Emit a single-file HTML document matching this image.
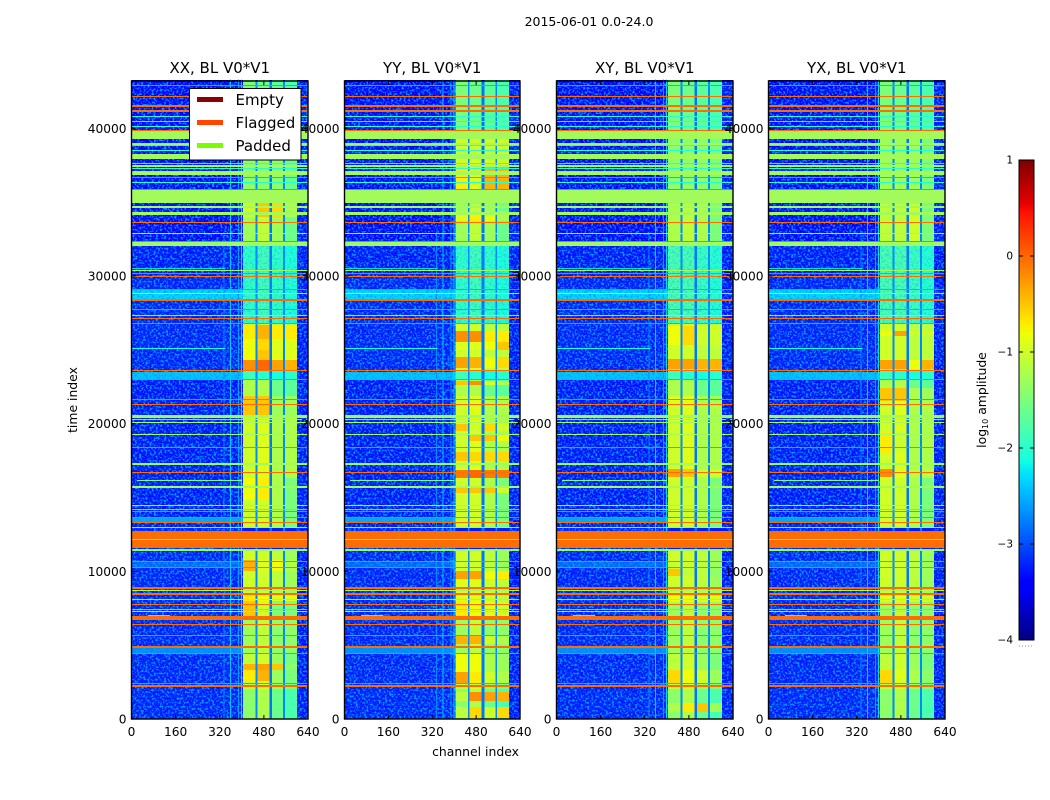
<!DOCTYPE html>
<html>
<head>
<meta charset="utf-8">
<title>2015-06-01 0.0-24.0</title>
<style>
html,body{margin:0;padding:0;background:#fff;width:1050px;height:800px;overflow:hidden}
svg{display:block}
text{font-family:"DejaVu Sans","Liberation Sans",sans-serif;fill:#000}
</style>
</head>
<body>
<svg id="figure" xmlns="http://www.w3.org/2000/svg" width="1050" height="800" viewBox="0 0 1050 800">
<defs>
<filter id="speckle" x="0" y="0" width="100%" height="100%" color-interpolation-filters="sRGB">
<feTurbulence type="fractalNoise" baseFrequency="0.48" numOctaves="2" seed="7"/>
<feColorMatrix type="matrix" values="0 0 0 0 0  0 0 0 0 0.62  0 0 0 0 1  5 0 0 0 -2.4"/>
</filter>
</defs>
<text x="589" y="26" text-anchor="middle" font-size="12.5">2015-06-01 0.0-24.0</text>
<text x="475.5" y="756" text-anchor="middle" font-size="12.4">channel index</text>
<text x="77" y="400" text-anchor="middle" font-size="12.4" transform="rotate(-90 77 400)">time index</text>
<g id="panels"></g>
<g id="colorbar"></g>
<text x="986" y="400" text-anchor="middle" font-size="12.4" transform="rotate(-90 986 400)">log<tspan font-size="8" dy="2">10</tspan><tspan dy="-2"> amplitude</tspan></text>
<g id="legend"></g>
</svg>
<script>
/* ---------- data (channels, time indices, log10 amplitudes) ---------- */
const panelTitles = ['XX, BL V0*V1', 'YY, BL V0*V1', 'XY, BL V0*V1', 'YX, BL V0*V1'];
const channelTicks = [0, 160, 320, 480, 640];
const timeTicks = [0, 10000, 20000, 30000, 40000];
const colorTicks = [1, 0, -1, -2, -3, -4];
const legendLabels = ['Empty', 'Flagged', 'Padded'];
const legendColors = ['#8b0000', '#ff4500', '#7cfc00'];

/* channel ranges of the four bright bands, and the gaps around them */
const blockChannels = [[405, 450], [456, 500], [510, 550], [557, 600]];
const gapChannels = [[450, 456, -2.7], [500, 510, -2.8], [550, 557, -2.7], [600, 640, -3.3]];

/* time ranges: whole-row flagged samples */
const flaggedRows = [[2200,2315],[2370,2420],[4380,4450],[4793,4928],[5600,5670],[6360,6430],[6736,7007],[7720,7790],[8429,8564],[8815,8950],[10240,10310],[10650,10720],[11563,12100],[12160,12761],[13250,13320],[13590,13660],[14030,14100],[16630,16700],[18320,18400],[21240,21310],[21570,21640],[22937,23052],[23545,23627],[26729,26810],[27080,27150],[27690,27760],[28285,28468],[29020,29090],[29940,30010],[30150,30220],[32290,32360],[33580,33650],[35810,35880],[36650,36710],[39800,39880],[41130,41250],[41440,41570],[42100,42170],[42860,42920]];

/* time ranges: whole-row padded samples */
const paddedRows = [[7240,7310],[8040,8100],[8670,8730],[11407,11542],[12100,12160],[12950,13020],[14420,14490],[15652,15760],[17229,17365],[19200,19280],[20020,20090],[20220,20290],[20412,20567],[27260,27330],[28790,28860],[30330,30400],[32053,32276],[32870,32940],[34153,34357],[34628,34763],[34966,35917],[36810,36870],[36931,37134],[37405,37540],[37900,38250],[38900,39035],[39265,39880]];

/* time ranges: faint rows in the low channels, with level */
const lightRows = [[4450,4780,-2.7],[10310,10640,-2.9],[13320,13590,-2.55],[23050,23480,-2.4],[28470,29020,-2.3]];

/* time ranges: thin cyan rows that reach across every channel, with level */
const thinRows = [[7400,7450,-2.0],[14140,14190,-2.0],[36290,36340,-2.0],[37270,37320,-2.0],[37620,37680,-2.0],[38490,38540,-2.0],[38800,38850,-2.0],[40070,40120,-2.0],[40450,40500,-2.0],[40790,40840,-2.0]];

/* background level per time range */
const backgroundRows = [[0,13000,-3.25],[13000,23000,-3.3],[23000,30000,-3.25],[30000,32000,-3.3],[32000,39300,-3.45],[39300,43300,-3.45]];

/* thin interference lines: channel, start time, end time, level */
const lineChannels = [[333,0,33000,-2.7],[358,0,43300,-2.4],[387,0,43300,-2.6],[397,0,43300,-2.3]];

/* sparse narrow-band rows: time, channel start, channel end, level */
const sparseRows = [[25080,0,340,-2.1],[16150,20,400,-1.5],[7000,60,140,-1.9],[30500,0,340,-2.3]];

/* amplitude of the four bright bands, common to all products */
const commonBandRows = [
  [0,2000,-1.4,-1.2,-1.6,-1.8],
  [2000,4500,-1.1,-1.0,-1.3,-1.5],
  [4500,8000,-1.3,-1.1,-1.4,-1.4],
  [8000,11400,-1.0,-1.0,-1.1,-1.3],
  [13000,16300,-1.0,-1.0,-1.2,-1.5],
  [16300,21900,-1.0,-0.9,-1.2,-1.2],
  [21900,23000,-1.2,-1.2,-1.6,-1.7],
  [23000,23600,-1.9,-2.0,-2.1,-2.0],
  [23600,26800,-1.0,-1.0,-1.1,-1.1],
  [26800,32400,-1.95,-1.85,-1.95,-2.05],
  [32400,34900,-1.3,-1.1,-1.3,-1.6],
  [34900,39800,-1.4,-1.4,-1.4,-1.6],
  [39800,43300,-1.5,-1.6,-1.7,-1.8]
];

/* product-specific bright episodes */
const hotRowsXX = [
  [2600,3300,-0.7,-0.4,-1.3,-1.5],[3300,3700,-0.4,-0.3,-0.5,-1.4],
  [7000,8000,-0.5,-1.0,-1.5,-1.5],[8000,8500,-0.7,-0.8,-0.9,-0.9],
  [10000,10800,-0.4,-0.9,-0.8,-1.2],[14800,16300,-0.8,-0.7,-1.2,-1.5],
  [20600,21900,-0.5,-0.5,-1.3,-1.3],[23630,24300,-0.2,0,-0.3,-0.4],
  [24300,25000,-0.8,-0.5,-0.9,-0.9],[25000,25700,-0.8,-0.6,-0.9,-0.9],
  [25700,26700,-0.7,-0.4,-0.7,-0.7],[34000,35000,-1.0,-0.5,-0.6,-1.2]
];
const hotRowsYY = [
  [100,780,-1.1,-0.6,-1.0,-0.6],[1250,1800,-1.1,-0.2,-0.3,-0.4],
  [2400,3150,-0.3,-0.7,-1.0,-1.2],[3150,4400,-0.8,-0.8,-1.2,-1.3],
  [5100,5650,-0.4,-0.4,-1.0,-1.2],[7000,8000,-0.7,-0.8,-0.9,-1.0],
  [8000,9400,-0.9,-0.9,-1.0,-1.1],[9500,10050,-0.3,-0.3,-0.8,-0.7],
  [15300,15700,-0.5,-0.5,-0.5,-1.0],[16300,16850,-0.1,0,-0.1,-0.1],
  [17500,18050,-0.5,-0.6,-0.6,-0.6],[18850,19200,-1.0,-0.5,-0.5,-0.8],
  [19500,20000,-0.5,-1.0,-0.6,-1.0],[22600,22900,-0.5,-0.2,-0.9,-1.2],
  [23800,24500,-0.3,-0.4,-0.8,-0.6],[25000,25500,-0.9,-0.9,-0.8,-0.5],
  [25500,26300,-0.2,-0.2,-0.7,-0.7],[33700,34400,-0.9,-0.7,-0.9,-1.2],
  [35900,37500,-0.7,-0.9,-0.4,-0.4],[37500,39300,-1.0,-1.0,-1.0,-1.0]
];
const hotRowsXY = [
  [500,1100,-1.2,-0.7,-0.5,-1.3],[2400,3300,-0.6,-0.8,-1.0,-1.3],
  [7900,8300,-0.8,-0.8,-0.9,-0.9],[9700,10150,-0.5,-1.1,-1.1,-1.4],
  [16400,16900,-0.3,-0.5,-1.0,-1.0],[21500,21800,-0.8,-0.8,-1.2,-1.3],
  [23700,24400,-0.3,-0.3,-0.4,-0.4],[25300,26600,-0.8,-0.6,-1.0,-1.0],
  [26800,32400,-1.8,-1.8,-1.9,-2.0],[32400,34900,-1.2,-1.1,-1.2,-1.5],
  [34900,39800,-1.4,-1.4,-1.4,-1.5]
];
const hotRowsYX = [
  [2400,3300,-0.6,-0.9,-1.2,-1.4],[7900,8300,-0.9,-0.9,-1.0,-1.0],
  [16400,16900,-0.2,-0.9,-1.1,-1.1],[18000,19500,-0.7,-1.0,-1.2,-1.2],
  [21500,22400,-0.5,-0.5,-1.2,-1.3],[23700,24300,-0.3,-0.3,-0.8,-0.4],
  [25900,26300,-0.8,-0.3,-1.0,-1.0],[26800,32400,-1.8,-1.8,-1.9,-2.0],
  [32400,34900,-1.1,-1.1,-1.0,-1.5],[34900,39800,-1.3,-1.3,-1.3,-1.5]
];
const hotRowsByPanel = [hotRowsXX, hotRowsYY, hotRowsXY, hotRowsYX];

/* time ranges where the bright bands look speckled */
const noisyBandRows = [[26800,32400]];

/* ---------- layout ---------- */
const SVGNS = 'http://www.w3.org/2000/svg';
const panelLefts = [131.5, 344.5, 556.5, 768.5];
const panelWidths = [176.5, 175.5, 176.5, 176.5];
let panelWidth = 176.5;
const plotTop = 81, plotBottom = 719;
const timeMax = 43200, channelMax = 640;
const cbLeft = 1019, cbRight = 1034, cbTop = 160, cbBottom = 640;
const FLAG_COLOR = '#ff6c00', PAD_COLOR = '#a2fb5a';

function channelToX(left, ch) { return left + ch / channelMax * panelWidth; }
function timeToY(t) { return plotBottom - t / timeMax * (plotBottom - plotTop); }
function levelToY(v) { return cbBottom - (v + 4) / 5 * (cbBottom - cbTop); }

/* matplotlib jet colormap over log10 amplitude -4..1 */
function jetChannel(v, pts) {
  for (let i = 1; i < pts.length; i++) {
    if (v <= pts[i][0]) {
      const f = (v - pts[i - 1][0]) / (pts[i][0] - pts[i - 1][0]);
      return pts[i - 1][1] + f * (pts[i][1] - pts[i - 1][1]);
    }
  }
  return pts[pts.length - 1][1];
}
function levelColor(level) {
  const v = Math.max(0, Math.min(1, (level + 4) / 5));
  const r = jetChannel(v, [[0, 0], [0.35, 0], [0.66, 1], [0.89, 1], [1, 0.5]]);
  const g = jetChannel(v, [[0, 0], [0.125, 0], [0.375, 1], [0.64, 1], [0.91, 0], [1, 0]]);
  const b = jetChannel(v, [[0, 0.5], [0.11, 1], [0.34, 1], [0.65, 0], [1, 0]]);
  return 'rgb(' + Math.round(r * 255) + ',' + Math.round(g * 255) + ',' + Math.round(b * 255) + ')';
}

function addRect(parent, name, x, y, w, h, fill) {
  const el = document.createElementNS(SVGNS, 'rect');
  
  
  el.setAttribute('x', x);
  el.setAttribute('y', y);
  el.setAttribute('width', w);
  el.setAttribute('height', h);
  el.setAttribute('fill', fill);
  el.setAttribute('shape-rendering', 'crispEdges');
  parent.appendChild(el);
  return el;
}
function addLine(parent, name, x1, y1, x2, y2, stroke, width) {
  const el = document.createElementNS(SVGNS, 'line');
  
  
  el.setAttribute('x1', x1);
  el.setAttribute('y1', y1);
  el.setAttribute('x2', x2);
  el.setAttribute('y2', y2);
  el.setAttribute('stroke', stroke);
  el.setAttribute('stroke-width', width);
  parent.appendChild(el);
  return el;
}
function addText(parent, name, x, y, anchor, size, content) {
  const el = document.createElementNS(SVGNS, 'text');
  
  
  el.setAttribute('x', x);
  el.setAttribute('y', y);
  el.setAttribute('text-anchor', anchor);
  el.setAttribute('font-size', size);
  el.textContent = content;
  parent.appendChild(el);
  return el;
}
function addGroup(parent, name) {
  const el = document.createElementNS(SVGNS, 'g');
  
  
  parent.appendChild(el);
  return el;
}

/* row across a channel span, snapped to whole pixels so thin rows stay saturated */
function spanRow(g, name, x0, x1, t0, t1, fill) {
  const yTop = Math.round(timeToY(t1));
  const h = Math.max(1, Math.round(timeToY(t0)) - yTop);
  return addRect(g, name, x0, yTop, x1 - x0, h, fill);
}

function drawPanel(index) {
  const left = panelLefts[index];
  panelWidth = panelWidths[index];
  const right = left + panelWidth;
  const g = addGroup(document.getElementById('panels'), 'panel-' + panelTitles[index].slice(0, 2).toLowerCase());

  backgroundRows.forEach(function (r) {
    spanRow(g, 'background-row', left, right, r[0], r[1], levelColor(r[2]));
  });

  lightRows.forEach(function (r) {
    spanRow(g, 'light-row', left, channelToX(left, 405), r[0], r[1], levelColor(r[2]));
  });

  gapChannels.forEach(function (c) {
    const x0 = channelToX(left, c[0]), x1 = channelToX(left, c[1]);
    addRect(g, 'band-gap', x0, plotTop, x1 - x0, plotBottom - plotTop, levelColor(c[2]));
  });

  const speckle = addRect(g, 'background-noise', left, plotTop, channelToX(left, 405) - left, plotBottom - plotTop, '#000');
  speckle.setAttribute('filter', 'url(#speckle)');
  const speckleRight = addRect(g, 'background-noise-right', channelToX(left, 600), plotTop, right - channelToX(left, 600), plotBottom - plotTop, '#000');
  speckleRight.setAttribute('filter', 'url(#speckle)');

  lineChannels.forEach(function (l) {
    addRect(g, 'interference-line', channelToX(left, l[0]), timeToY(l[2]), 1, timeToY(l[1]) - timeToY(l[2]), levelColor(l[3]));
  });

  [commonBandRows, hotRowsByPanel[index]].forEach(function (rows) {
    rows.forEach(function (r) {
      blockChannels.forEach(function (c, b) {
        const x0 = channelToX(left, c[0]), x1 = channelToX(left, c[1]);
        spanRow(g, 'band-cell', x0, x1, r[0], r[1], levelColor(r[2 + b]));
      });
    });
  });

  noisyBandRows.forEach(function (r) {
    const x0 = channelToX(left, 405), x1 = channelToX(left, 600);
    const el = spanRow(g, 'band-noise', x0, x1, r[0], r[1], '#000');
    el.setAttribute('filter', 'url(#speckle)');
    el.setAttribute('opacity', '0.35');
  });

  sparseRows.forEach(function (r) {
    const x0 = channelToX(left, r[1]), x1 = channelToX(left, r[2]);
    spanRow(g, 'sparse-row', x0, x1, r[0], r[0] + 60, levelColor(r[3]));
  });

  thinRows.forEach(function (r) {
    spanRow(g, 'thin-row', left, right, r[0], r[1], levelColor(r[2]));
  });
  paddedRows.forEach(function (r) {
    spanRow(g, 'padded-row', left, right, r[0], r[1], PAD_COLOR);
  });
  flaggedRows.forEach(function (r) {
    spanRow(g, 'flagged-row', left, right, r[0], r[1], FLAG_COLOR);
  });

  /* frame */
  const frame = addRect(g, 'plot-frame', left, plotTop, panelWidth, plotBottom - plotTop, 'none');
  frame.setAttribute('stroke', '#000');
  frame.setAttribute('stroke-width', '1.4');
  frame.removeAttribute('shape-rendering');

  /* ticks and tick labels */
  channelTicks.forEach(function (c) {
    const x = channelToX(left, c);
    addLine(g, 'x-tick-bottom', x, plotBottom, x, plotBottom - 4, '#000', 1);
    addLine(g, 'x-tick-top', x, plotTop, x, plotTop + 4, '#000', 1);
    addText(g, 'x-tick-label', x, 736, 'middle', 12.2, String(c));
  });
  timeTicks.forEach(function (t) {
    const y = timeToY(t);
    addLine(g, 'y-tick-left', left, y, left + 4, y, '#000', 1);
    addLine(g, 'y-tick-right', right, y, right - 4, y, '#000', 1);
    addText(g, 'y-tick-label', left - 5, y + 4.5, 'end', 12.2, String(t));
  });

  addText(g, 'panel-title', left + panelWidth / 2, 73, 'middle', 15, panelTitles[index]);
}

function drawLegend() {
  const g = document.getElementById('legend');
  const box = addRect(g, 'legend-box', 189.5, 88.5, 111.5, 71.5, '#fff');
  box.setAttribute('stroke', '#000');
  box.setAttribute('stroke-width', '1');
  legendLabels.forEach(function (label, i) {
    const y = 99.5 + i * 23;
    const entry = addGroup(g, 'legend-entry-' + label.toLowerCase());
    addLine(entry, 'legend-swatch', 197, y, 223, y, legendColors[i], 5);
    addText(entry, 'legend-label', 235.5, y + 5.5, 'start', 15, label);
  });
}

function drawColorbar() {
  const g = document.getElementById('colorbar');
  const steps = 256;
  for (let i = 0; i < steps; i++) {
    const level = -4 + 5 * (i + 0.5) / steps;
    const y0 = levelToY(-4 + 5 * (i + 1) / steps);
    const y1 = levelToY(-4 + 5 * i / steps);
    addRect(g, 'colorbar-cell', cbLeft, y0, cbRight - cbLeft, y1 - y0 + 0.5, levelColor(level));
  }
  const frame = addRect(g, 'colorbar-frame', cbLeft, cbTop, cbRight - cbLeft, cbBottom - cbTop, 'none');
  frame.setAttribute('stroke', '#000');
  frame.setAttribute('stroke-width', '1');
  colorTicks.forEach(function (v) {
    const y = levelToY(v);
    addLine(g, 'colorbar-tick-left', cbLeft, y, cbLeft + 4, y, '#000', 1);
    addLine(g, 'colorbar-tick-right', cbRight, y, cbRight - 4, y, '#000', 1);
    const label = v < 0 ? '\u2212' + Math.abs(v) : String(v);
    addText(g, 'colorbar-tick-label', cbLeft - 6, y + 3.5, 'end', 10.5, label);
  });
  const dots = addLine(g, 'colorbar-minor-dots', cbLeft, 646, cbRight, 646, '#888', 1);
  dots.setAttribute('stroke-dasharray', '1 2');
}

panelTitles.forEach(function (title, i) { drawPanel(i); });
drawLegend();
drawColorbar();
</script>
</body>
</html>
